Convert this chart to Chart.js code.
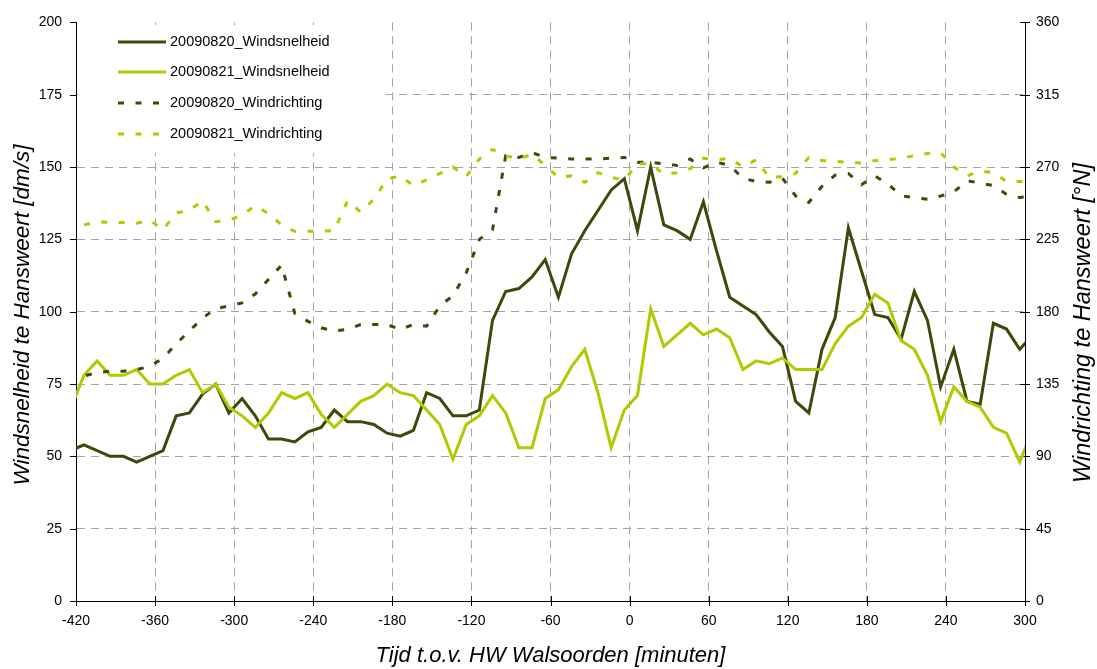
<!DOCTYPE html>
<html>
<head>
<meta charset="utf-8">
<script src="https://cdn.jsdelivr.net/npm/chart.js@4.4.0/dist/chart.umd.min.js"></script>
<style>
  html, body { margin: 0; padding: 0; background: #fff; }
</style>
</head>
<body>
<canvas id="myChart" width="1097" height="669"></canvas>
<script>
/* Colours */
let colorDark = '#3a4a0a';
let colorLight = '#aacc00';
let colorGrid = '#a3a3a3';
const fontFamily = '"Liberation Sans", Arial, sans-serif';

// minutes relative to HW Walsoorden
const minutes = [-424, -414, -404, -394, -384, -374, -364, -354, -344, -334,
  -324, -314, -304, -294, -284, -274, -264, -254, -244, -234,
  -224, -214, -204, -194, -184, -174, -164, -154, -144, -134,
  -124, -114, -104, -94, -84, -74, -64, -54, -44, -34,
  -24, -14, -4, 6, 16, 26, 36, 46, 56, 66,
  76, 86, 96, 106, 116, 126, 136, 146, 156, 166,
  176, 186, 196, 206, 216, 226, 236, 246, 256, 266,
  276, 286, 296, 306];

// wind speed [dm/s]
const speed0820 = [52, 54, 52, 50, 50, 48, 50, 52, 64, 65,
  71.5, 75, 65, 70, 64, 56, 56, 55, 58.5, 60,
  66, 62, 62, 61, 58, 57, 59, 72, 70, 64,
  64, 66, 97, 107, 108, 112, 118, 105, 120, 128,
  135, 142, 146, 128, 150, 130, 128, 125, 138, 121,
  105, 102, 99, 93, 88, 69, 65, 87, 98, 129,
  114, 99, 98, 90.5, 107, 97, 74, 87, 69, 68,
  96, 94, 87, 92];
const speed0821 = [66.5, 78, 83, 78, 78, 80, 75, 75, 78, 80,
  72, 75, 67, 64, 60, 65, 72, 70, 72, 64.5,
  60, 64.5, 69, 71, 75, 72, 71, 66, 61, 49,
  61, 64, 71, 65, 53, 53, 70, 73, 81, 87,
  72, 53, 66, 71, 101, 88, 92, 96, 92, 94,
  91, 80, 83, 82, 84, 80, 80, 80, 89, 95,
  98, 106, 103, 90, 87, 78, 62, 74, 69, 67,
  60, 58, 48, 59.5];

// wind direction [degrees N]
const dir0820 = [135, 140, 142, 143, 143, 144, 146, 151, 160, 168,
  176, 182, 183.5, 185.5, 191, 200, 209, 179, 174, 170,
  168, 169, 172, 172, 172, 169, 172, 171, 183.5, 190,
  204, 225, 231, 277, 276, 279, 276, 275.5, 275, 275,
  275, 275.5, 276, 273, 273, 272, 271, 275, 269.5, 273,
  271, 263, 261, 260.5, 263, 252, 248, 258, 265, 266,
  259, 264.5, 259.5, 252, 251, 250, 252, 254.5, 261.5, 260,
  258.5, 253, 251, 252];
const dir0821 = [227, 234, 236, 235.5, 235.5, 235, 237, 231, 241.5, 243,
  249, 236, 237, 240, 246, 241, 234, 230, 230, 230,
  230.5, 249, 242, 250, 262.5, 264.5, 258.5, 262, 266, 270,
  264, 275, 281, 277, 275, 278, 271, 263.5, 264.5, 260.5,
  266.5, 263.5, 262, 272, 272, 265.5, 266.5, 269, 275.5, 274.5,
  275.5, 270, 274.5, 263.5, 264, 266, 276, 274, 273.5, 273,
  272.5, 274, 274.5, 275.5, 277, 278.5, 279, 270, 264.5, 267.5,
  266.5, 261, 261, 261];

const seriesLabels = ['20090820_Windsnelheid', '20090821_Windsnelheid',
  '20090820_Windrichting', '20090821_Windrichting'];

const xTitle = 'Tijd t.o.v. HW Walsoorden [minuten]';
const yTitle = 'Windsnelheid te Hansweert [dm/s]';
const y2Title = 'Windrichting te Hansweert [°N]';

function toPoints(values) {
  return values.map((v, i) => ({ x: minutes[i], y: v }));
}

const dirDash = [6, 11.5];

const data = {
  datasets: [
    { label: seriesLabels[0], data: toPoints(speed0820), yAxisID: 'y',
      borderColor: colorDark, borderWidth: 3, order: 4 },
    { label: seriesLabels[1], data: toPoints(speed0821), yAxisID: 'y',
      borderColor: colorLight, borderWidth: 3, order: 3 },
    { label: seriesLabels[2], data: toPoints(dir0820), yAxisID: 'y2',
      borderColor: colorDark, borderWidth: 3, borderDash: dirDash, order: 2 },
    { label: seriesLabels[3], data: toPoints(dir0821), yAxisID: 'y2',
      borderColor: colorLight, borderWidth: 3, borderDash: dirDash, order: 1 },
  ],
};

// grid lines that sit on an axis are left out
const hideEdge = (lo, hi) => (c) =>
  (c.tick && (c.tick.value === lo || c.tick.value === hi)) ? 'rgba(0,0,0,0)' : colorGrid;

const tickFont = { family: fontFamily, size: 14 };

function drawRotated(ctx, text, x, y, size) {
  ctx.save();
  ctx.fillStyle = '#000';
  ctx.font = 'italic ' + size + 'px ' + fontFamily;
  ctx.textAlign = 'center';
  ctx.textBaseline = 'middle';
  ctx.translate(x, y);
  ctx.rotate(-Math.PI / 2);
  ctx.fillText(text, 0, 0);
  ctx.restore();
}

// legend box, tick marks and axis titles
const decor = {
  id: 'decor',
  beforeDatasetsDraw(chart) {
    const { ctx, chartArea: a, scales } = chart;
    ctx.save();
    ctx.strokeStyle = '#000';
    ctx.lineWidth = 1;
    ctx.beginPath();
    scales.y.ticks.forEach(t => {
      const y = Math.round(scales.y.getPixelForValue(t.value)) + 0.5;
      ctx.moveTo(a.left - 6, y); ctx.lineTo(a.left, y);
    });
    scales.y2.ticks.forEach(t => {
      const y = Math.round(scales.y2.getPixelForValue(t.value)) + 0.5;
      ctx.moveTo(a.right - 5, y); ctx.lineTo(a.right + 5, y);
    });
    scales.x.ticks.forEach(t => {
      const x = Math.round(scales.x.getPixelForValue(t.value)) + 0.5;
      ctx.moveTo(x, a.bottom - 5); ctx.lineTo(x, a.bottom + 5);
    });
    ctx.stroke();

    // legend
    ctx.fillStyle = '#fff';
    ctx.fillRect(78, 25, 308, 128);
    const rows = [42, 72, 103, 134];
    ctx.font = '14.5px ' + fontFamily;
    ctx.textBaseline = 'middle';
    chart.data.datasets.forEach((ds, i) => {
      ctx.strokeStyle = ds.borderColor;
      ctx.lineWidth = 3;
      ctx.setLineDash(ds.borderDash || []);
      ctx.beginPath();
      ctx.moveTo(118, rows[i]); ctx.lineTo(166, rows[i]);
      ctx.stroke();
      ctx.setLineDash([]);
      ctx.fillStyle = '#000';
      ctx.fillText(ds.label, 170, rows[i]);
    });
    ctx.restore();
  },
  afterDraw(chart) {
    const { ctx, chartArea: a } = chart;
    ctx.save();
    ctx.fillStyle = '#000';
    ctx.font = 'italic 22px ' + fontFamily;
    ctx.textAlign = 'center';
    ctx.textBaseline = 'middle';
    ctx.fillText(xTitle, (a.left + a.right) / 2, 656);
    ctx.restore();
    drawRotated(ctx, yTitle, 23, 315, 22.5);
    drawRotated(ctx, y2Title, 1083, 323, 23.5);
  },
};

const chartConfig = {
  type: 'line',
  data,
  options: {
    responsive: false,
    animation: false,
    devicePixelRatio: 1,
    layout: { padding: { top: 17, left: 0, right: 0, bottom: 0 } },
    elements: {
      line: { tension: 0, fill: false },
      point: { radius: 0, hoverRadius: 0 },
    },
    plugins: {
      legend: { display: false },
      tooltip: { enabled: false },
    },
    scales: {
      x: {
        type: 'linear',
        position: 'bottom',
        min: -420,
        max: 300,
        afterFit: s => { s.height = 68; },
        ticks: { stepSize: 60, padding: 12, maxRotation: 0, color: '#000', font: tickFont },
        grid: { color: hideEdge(-420, 300), lineWidth: 1, drawTicks: false },
        border: { display: true, color: '#000', width: 1, dash: [8, 6] },
      },
      y: {
        position: 'left',
        min: 0,
        max: 200,
        afterFit: s => { s.width = 76; },
        ticks: { stepSize: 25, padding: 14, color: '#000', font: tickFont },
        grid: { color: hideEdge(0, 200), lineWidth: 1, drawTicks: false },
        border: { display: true, color: '#000', width: 1, dash: [8, 6] },
      },
      y2: {
        position: 'right',
        min: 0,
        max: 360,
        afterFit: s => { s.width = 72; },
        ticks: { stepSize: 45, padding: 11, color: '#000', font: tickFont },
        grid: { display: false, drawTicks: false },
        border: { display: true, color: '#000', width: 1 },
      },
    },
  },
  plugins: [decor],
};

const ctx = document.getElementById('myChart').getContext('2d');
const myChart = new Chart(ctx, chartConfig);
</script>
</body>
</html>
